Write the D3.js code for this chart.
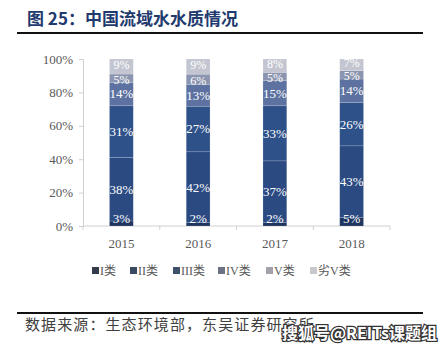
<!DOCTYPE html>
<html><head><meta charset="utf-8">
<script src="https://cdn.jsdelivr.net/npm/d3@7"></script>
<style>
body{margin:0;background:#fff;}
svg{display:block;}
</style></head>
<body>
<script>
const years = ["2015","2016","2017","2018"];
const categories = ["I类","II类","III类","IV类","V类","劣V类"];
const classI   = [3, 2, 2, 5];
const classII  = [38, 42, 37, 43];
const classIII = [31, 27, 33, 26];
const classIV  = [14, 13, 15, 14];
const classV   = [5, 6, 5, 5];
const classVI  = [9, 9, 8, 7];
const yTicks = [0, 0.2, 0.4, 0.6, 0.8, 1.0];
const colors = ["#1e3560", "#2b4a81", "#2f5189", "#5d72a0", "#8c95b0", "#c3c6d1"];
const legendColors = ["#343b4b", "#3b4a62", "#3f506b", "#6b7282", "#a1a2aa", "#c9c9cd"];

const series = [classI, classII, classIII, classIV, classV, classVI];
const table = years.map((y, i) => {
  const o = {year: y};
  categories.forEach((c, k) => o[c] = series[k][i]);
  return o;
});

const W = 444, H = 353;
const svg = d3.select("body").append("svg").attr("width", W).attr("height", H);

// title
svg.append("text").attr("x", 27).attr("y", 25)
  .attr("font-family", "'Noto Sans CJK SC', sans-serif").attr("font-weight", "bold")
  .attr("font-size", 17).attr("fill", "#1f3a6e").text("图 25：中国流域水水质情况");
svg.append("line").attr("x1", 17).attr("x2", 423).attr("y1", 33).attr("y2", 33)
  .attr("stroke", "#111").attr("stroke-width", 2);

const x = d3.scaleBand().domain(years).range([83, 390]).paddingInner(0.69).paddingOuter(0.345);
const y = d3.scaleLinear().domain([0, 1]).range([226, 59]);

const stack = d3.stack().keys(categories).offset(d3.stackOffsetExpand);
const stacked = stack(table);

// axes
const yAxis = svg.append("g").attr("transform", "translate(83,0)")
  .call(d3.axisLeft(y).tickValues(yTicks).tickFormat(d3.format(".0%")).tickSize(4).tickPadding(6));
yAxis.select(".domain").attr("stroke", "#d0d0d0");
yAxis.selectAll(".tick line").attr("stroke", "#d0d0d0");
yAxis.selectAll("text").attr("font-family", "'Liberation Serif', serif").attr("font-size", 13).attr("fill", "#595959");

const xAxisG = svg.append("g").attr("transform", "translate(0,226)");
xAxisG.append("line").attr("x1", 83).attr("x2", 390).attr("stroke", "#d0d0d0");
const bounds = d3.range(years.length + 1).map(i => 83 + i * (390 - 83) / years.length);
xAxisG.selectAll("line.tk").data(bounds).join("line").attr("class", "tk")
  .attr("x1", d => d).attr("x2", d => d).attr("y1", 0).attr("y2", 4).attr("stroke", "#d0d0d0");
xAxisG.selectAll("text").data(years).join("text")
  .attr("x", d => x(d) + x.bandwidth() / 2).attr("y", 22).attr("text-anchor", "middle")
  .attr("font-family", "'Liberation Serif', serif").attr("font-size", 13).attr("fill", "#595959")
  .text(d => d);

// bars
const layers = svg.append("g").selectAll("g").data(stacked).join("g")
  .attr("fill", (d, i) => colors[i]);
layers.selectAll("rect").data(d => d).join("rect")
  .attr("x", d => x(d.data.year)).attr("width", x.bandwidth())
  .attr("y", d => y(d[1])).attr("height", d => y(d[0]) - y(d[1]))
  .attr("stroke", "#ffffff").attr("stroke-opacity", 0.25).attr("stroke-width", 0.6);

// labels
const lab = svg.append("g");
const nudge = [0, 0, 0, 0, 1.5, -1.5];
stacked.forEach((layer, i) => {
  layer.forEach(d => {
    const v = d.data[categories[i]];
    const fs = (i >= 4) ? 12 : 13;
    const mid = (y(d[0]) + y(d[1])) / 2 + fs * 0.34 + nudge[i];
    lab.append("text")
      .attr("x", x(d.data.year) + x.bandwidth() / 2)
      .attr("y", Math.min(mid, 223))
      .attr("text-anchor", "middle")
      .attr("font-family", "'Liberation Serif', serif").attr("font-size", fs)
      .attr("fill", "#fff")
      .text(v + "%");
  });
});

// legend
const legX = [92, 130, 173, 218, 266, 310];
const leg = svg.append("g");
categories.forEach((c, i) => {
  leg.append("rect").attr("x", legX[i]).attr("y", 267).attr("width", 7).attr("height", 7)
    .attr("fill", legendColors[i]);
  leg.append("text").attr("x", legX[i] + 8).attr("y", 275)
    .attr("font-family", "'Liberation Serif', 'Noto Sans CJK SC', serif").attr("font-size", 12)
    .attr("fill", "#595959").text(c);
});

// bottom rule and source
svg.append("line").attr("x1", 17).attr("x2", 423).attr("y1", 313).attr("y2", 313)
  .attr("stroke", "#111").attr("stroke-width", 2);
svg.append("text").attr("x", 25).attr("y", 330)
  .attr("font-family", "'Noto Sans CJK SC', sans-serif").attr("font-size", 15)
  .attr("letter-spacing", 1.1).attr("fill", "#404040").text("数据来源：生态环境部，东吴证券研究所");
svg.append("text").attr("x", 282).attr("y", 339)
  .attr("font-family", "'Noto Sans CJK SC', sans-serif").attr("font-weight", "bold").attr("font-size", 16)
  .attr("fill", "#fff").attr("stroke", "#333").attr("stroke-width", 2.5).attr("paint-order", "stroke")
  .text("搜狐号@REITs课题组");
</script>
</body></html>
